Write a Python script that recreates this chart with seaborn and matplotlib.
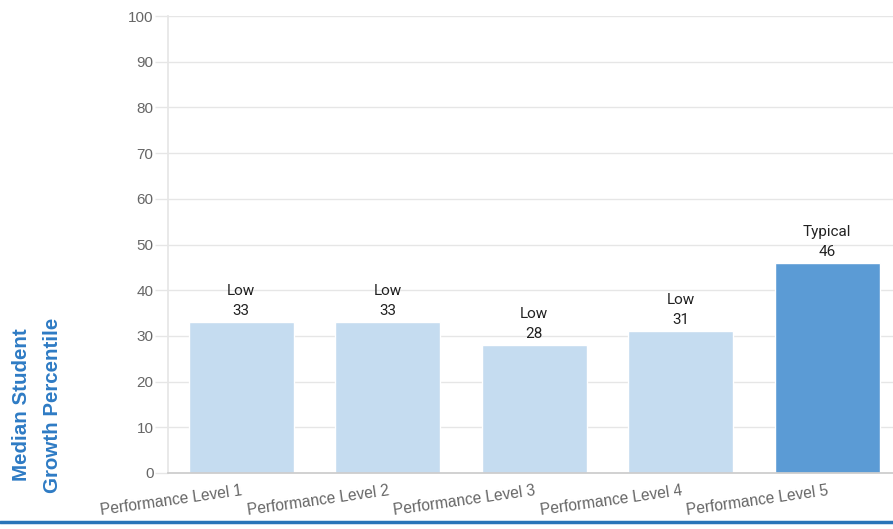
import seaborn as sns
import numpy as np
import matplotlib.pyplot as plt
from matplotlib.lines import Line2D

# chart data
levels = ["Performance Level 1", "Performance Level 2", "Performance Level 3",
          "Performance Level 4", "Performance Level 5"]
growth = [33, 33, 28, 31, 46]
ratings = ["Low", "Low", "Low", "Low", "Typical"]
bar_colors = ["#c5dcf0", "#c5dcf0", "#c5dcf0", "#c5dcf0", "#5b9bd5"]
y_ticks = list(range(0, 101, 10))

sns.set_theme(style="white")
plt.rcParams['font.family'] = ['Liberation Sans', 'DejaVu Sans']

W, H = 893, 529
fig = plt.figure(figsize=(W / 100, H / 100), dpi=100)
left, right, top, bottom = 168, 893, 16, 473
ax = fig.add_axes([left / W, 1 - bottom / H, (right - left) / W, (bottom - top) / H])

sns.barplot(x=levels, y=growth, hue=levels, palette=bar_colors, width=0.717,
            legend=False, saturation=1, ax=ax)

ax.set_ylim(0, 100)
ax.set_xlim(-0.5, -0.5 + (right - left) / 146.5)
ax.set_yticks(y_ticks)
ax.set_yticklabels([str(t) for t in y_ticks])
ax.yaxis.grid(True, color="#e6e6e6", linewidth=1)
ax.set_axisbelow(True)
ax.tick_params(axis='y', color="#e6e6e6", labelcolor="#666666", labelsize=11,
               length=9.5, width=1, direction='out', left=True, pad=1)
ax.tick_params(axis='x', length=0, labelsize=11.2, labelcolor="#666666", pad=7)
plt.setp(ax.get_xticklabels(), rotation=8, ha='right', rotation_mode='anchor')
ax.set_xlabel("")
ax.set_ylabel("")

for s in ["top", "right"]:
    ax.spines[s].set_visible(False)
ax.spines["left"].set_color("#e6e6e6")
ax.spines["bottom"].set_color("#cccccc")

# value labels
for i, (v, r) in enumerate(zip(growth, ratings)):
    ax.annotate(f"{r}\n{v}", xy=(i, v), xytext=(0, 3), textcoords="offset points",
                ha='center', va='bottom', fontsize=11, color="#222222",
                family=['Roboto', 'DejaVu Sans'], linespacing=1.55)

# y axis title
fig.text(37 / W, 1 - 405 / H, "Median Student\nGrowth Percentile", rotation=90,
         ha='center', va='center', fontsize=14.8, fontweight='bold', color="#2e7bc4",
         multialignment='center', linespacing=1.8)

# bottom rule
fig.add_artist(Line2D([0, 1], [1 - 522 / H, 1 - 522 / H], color="#2a74b8",
                      linewidth=2.5, transform=fig.transFigure))

fig.savefig("out.png", dpi=100)
